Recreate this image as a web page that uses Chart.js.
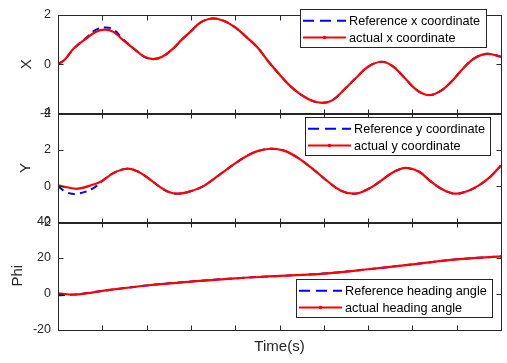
<!DOCTYPE html>
<html>
<head>
<meta charset="utf-8">
<script src="https://cdn.jsdelivr.net/npm/chart.js@4.4.0/dist/chart.umd.min.js"></script>
<style>
body { margin: 0; background: #fff; }
#wrap { position: relative; width: 507px; height: 363px; }
canvas { position: absolute; left: 0; top: 0; }
</style>
</head>
<body>
<div id="wrap">
  <canvas id="cX" width="507" height="363"></canvas>
  <canvas id="cY" width="507" height="363"></canvas>
  <canvas id="cPhi" width="507" height="363"></canvas>
</div>
<script>
// time ticks (no labels shown)
const timeTicks = [0, 1, 2, 3, 4, 5, 6, 7, 8, 9, 10];

// X panel
const tX = [0, 0.15, 0.35, 0.65, 0.85, 1.06, 1.25, 1.45, 1.75, 1.95, 2.15, 2.35, 2.6, 2.8, 3.0, 3.2, 3.47,
            3.75, 4.0, 4.25, 4.5, 4.75, 5.0, 5.25, 5.5, 5.75, 5.98, 6.2, 6.5, 6.75, 7.0, 7.3, 7.55, 7.8, 8.1, 8.37,
            8.65, 8.9, 9.15, 9.4, 9.68, 10];
const xReference = [0, 0.18, 0.62, 1.08, 1.38, 1.48, 1.4, 1.04, 0.57, 0.3, 0.21, 0.3, 0.63, 1.0, 1.32, 1.66, 1.84,
            1.74, 1.48, 1.1, 0.68, 0.11, -0.41, -0.89, -1.24, -1.48, -1.55, -1.44, -0.95, -0.51, -0.1, 0.1, -0.07, -0.5, -1.04, -1.24,
            -1.06, -0.66, -0.16, 0.24, 0.42, 0.3];
const xActual    = [0, 0.18, 0.62, 1.05, 1.3, 1.39, 1.3, 1.0, 0.57, 0.3, 0.21, 0.3, 0.63, 1.0, 1.32, 1.66, 1.84,
            1.74, 1.48, 1.1, 0.68, 0.11, -0.41, -0.89, -1.24, -1.48, -1.55, -1.44, -0.95, -0.51, -0.1, 0.1, -0.07, -0.5, -1.04, -1.24,
            -1.06, -0.66, -0.16, 0.24, 0.42, 0.3];
const xTicks = [-2, 0, 2];

// Y panel
const tY = [0, 0.2, 0.45, 0.8, 1.0, 1.25, 1.55, 1.8, 2.0, 2.3, 2.5, 2.7, 2.95, 3.25, 3.5, 3.75, 4.0, 4.25, 4.5, 4.8,
            5.1, 5.4, 5.75, 6.1, 6.4, 6.7, 7.0, 7.25, 7.5, 7.7, 7.88, 8.15, 8.4, 8.65, 8.96, 9.25, 9.5, 9.75, 10];
const yReference = [0, -0.33, -0.4, -0.1, 0.3, 0.72, 0.96, 0.81, 0.51, -0.03, -0.31, -0.4, -0.3, -0.03, 0.37, 0.82, 1.25, 1.64, 1.92, 2.05,
            1.95, 1.58, 0.95, 0.25, -0.25, -0.4, -0.15, 0.23, 0.67, 0.92, 1.0, 0.8, 0.3, -0.13, -0.4, -0.25, 0.05, 0.5, 1.14];
const yActual    = [0.05, -0.05, -0.13, 0.1, 0.3, 0.72, 0.96, 0.81, 0.51, -0.03, -0.31, -0.4, -0.3, -0.03, 0.37, 0.82, 1.25, 1.64, 1.92, 2.05,
            1.95, 1.58, 0.95, 0.25, -0.25, -0.4, -0.15, 0.23, 0.67, 0.92, 1.0, 0.8, 0.3, -0.13, -0.4, -0.25, 0.05, 0.5, 1.14];
const yTicks = [-2, 0, 2, 4];

// Phi panel
const tPhi = [0, 0.4, 1, 2, 3, 4, 5, 6, 7, 8, 9, 10];
const phiReference = [-0.8, -0.3, 1.6, 4.6, 6.8, 8.6, 9.9, 11.2, 13.6, 16.3, 19.1, 20.7];
const phiActual    = [0.3, -0.4, 1.6, 4.6, 6.8, 8.6, 9.9, 11.2, 13.6, 16.3, 19.1, 20.7];
const phiTicks = [-20, 0, 20, 40];

const AXIS_COLOR = "#262626";
const FONT = "'Liberation Sans', Arial, Helvetica, sans-serif";

// box + inward ticks + boxed legend, MATLAB style
const matlabAxes = {
    id: "matlabAxes",
    afterDatasetsDraw(chart, args, opts) {
        const ctx = chart.ctx;
        const a = chart.chartArea;
        const xs = chart.scales.x, ys = chart.scales.y;
        const L = Math.round(a.left) + 0.5, R = Math.round(a.right) + 0.5;
        const T = Math.round(a.top) + 0.5, B = Math.round(a.bottom) + 0.5;
        ctx.save();
        ctx.strokeStyle = AXIS_COLOR;
        ctx.lineWidth = 1;
        ctx.beginPath();
        ctx.rect(L, T, R - L, B - T);
        timeTicks.forEach(v => {
            const p = Math.round(xs.getPixelForValue(v)) + 0.5;
            ctx.moveTo(p, B); ctx.lineTo(p, B - 5);
            ctx.moveTo(p, T); ctx.lineTo(p, T + 5);
        });
        opts.yTicks.forEach(v => {
            const p = Math.round(ys.getPixelForValue(v)) + 0.5;
            ctx.moveTo(L, p); ctx.lineTo(L + 5, p);
            ctx.moveTo(R, p); ctx.lineTo(R - 5, p);
        });
        ctx.stroke();

        // legend
        const lg = opts.legend;
        ctx.fillStyle = "#fff";
        ctx.fillRect(lg.x, lg.y, lg.w, lg.h);
        ctx.strokeRect(lg.x + 0.5, lg.y + 0.5, lg.w, lg.h);
        ctx.font = "12.7px " + FONT;
        ctx.textBaseline = "middle";
        ctx.textAlign = "left";
        const rows = [lg.y + 11.7, lg.y + 28.5];
        lg.items.forEach((it, i) => {
            const yy = rows[i];
            ctx.beginPath();
            ctx.strokeStyle = it.color;
            ctx.lineWidth = 2;
            ctx.setLineDash(it.dash || []);
            ctx.moveTo(lg.x + 3, yy);
            ctx.lineTo(lg.x + 46, yy);
            ctx.stroke();
            ctx.setLineDash([]);
            if (it.dot) {
                ctx.fillStyle = it.color;
                ctx.beginPath();
                ctx.arc(lg.x + 24.5, yy, 1.8, 0, Math.PI * 2);
                ctx.fill();
            }
            ctx.fillStyle = "#000";
            ctx.fillText(it.text, lg.x + 49, yy + 0.5);
        });
        ctx.restore();
    }
};

function pts(t, v) {
    return t.map((tt, i) => ({ x: tt, y: v[i] }));
}

function makePanel(id, cfg) {
    const refName = cfg.refName, actName = cfg.actName;
    new Chart(document.getElementById(id), {
        type: "line",
        data: {
            datasets: [
                {
                    label: actName,
                    data: pts(cfg.t, cfg.actual),
                    borderColor: "#ff0000",
                    borderWidth: 2.2,
                    pointRadius: 0,
                    tension: 0.4,
                    fill: false,
                    order: 0
                },
                {
                    label: refName,
                    data: pts(cfg.t, cfg.reference),
                    borderColor: "#0000ff",
                    borderWidth: 2,
                    borderDash: [7, 5],
                    pointRadius: 0,
                    tension: 0.4,
                    fill: false,
                    order: 1
                }
            ]
        },
        options: {
            responsive: false,
            animation: false,
            events: [],
            layout: { padding: cfg.padding },
            plugins: {
                legend: { display: false },
                tooltip: { enabled: false },
                matlabAxes: {
                    yTicks: cfg.ticks,
                    legend: {
                        x: cfg.legendBox[0], y: cfg.legendBox[1], w: cfg.legendBox[2], h: cfg.legendBox[3],
                        items: [
                            { text: refName, color: "#0000ff", dash: [11, 6] },
                            { text: actName, color: "#ff0000", dot: true }
                        ]
                    }
                }
            },
            scales: {
                x: {
                    type: "linear",
                    min: 0,
                    max: 10,
                    ticks: { display: false, stepSize: 1 },
                    grid: { display: false, drawTicks: false },
                    border: { display: false },
                    title: {
                        display: cfg.showTime,
                        text: "Time(s)",
                        color: AXIS_COLOR,
                        font: { family: FONT, size: 15 },
                        padding: 0
                    },
                    afterFit: s => { s.height = cfg.showTime ? 26 : 0; }
                },
                y: {
                    min: cfg.ticks[0],
                    max: cfg.ticks[cfg.ticks.length - 1],
                    ticks: {
                        stepSize: cfg.ticks[1] - cfg.ticks[0],
                        color: AXIS_COLOR,
                        font: { family: FONT, size: 12.5 },
                        padding: 7
                    },
                    grid: { display: false, drawTicks: false },
                    border: { display: false },
                    title: {
                        display: true,
                        text: cfg.yTitle,
                        color: AXIS_COLOR,
                        font: { family: FONT, size: 15 },
                        padding: { top: cfg.titlePad, bottom: 0 }
                    },
                    afterFit: s => { s.width = 58; }
                }
            }
        },
        plugins: [matlabAxes]
    });
}

makePanel("cX", {
    t: tX, reference: xReference, actual: xActual, ticks: xTicks,
    refName: "Reference x coordinate", actName: "actual x coordinate",
    yTitle: "X", titlePad: 18, showTime: false,
    padding: { left: 0, right: 6, top: 5, bottom: 249 },
    legendBox: [300, 9, 186, 38]
});

makePanel("cY", {
    t: tY, reference: yReference, actual: yActual, ticks: yTicks,
    refName: "Reference y coordinate", actName: "actual y coordinate",
    yTitle: "Y", titlePad: 17, showTime: false,
    padding: { left: 0, right: 6, top: 113, bottom: 140 },
    legendBox: [305, 117, 185, 38]
});

makePanel("cPhi", {
    t: tPhi, reference: phiReference, actual: phiActual, ticks: phiTicks,
    refName: "Reference heading angle", actName: "actual heading angle",
    yTitle: "Phi", titlePad: 9, showTime: true,
    padding: { left: 0, right: 6, top: 221.5, bottom: 7 },
    legendBox: [296, 279, 196, 38]
});
</script>
</body>
</html>
